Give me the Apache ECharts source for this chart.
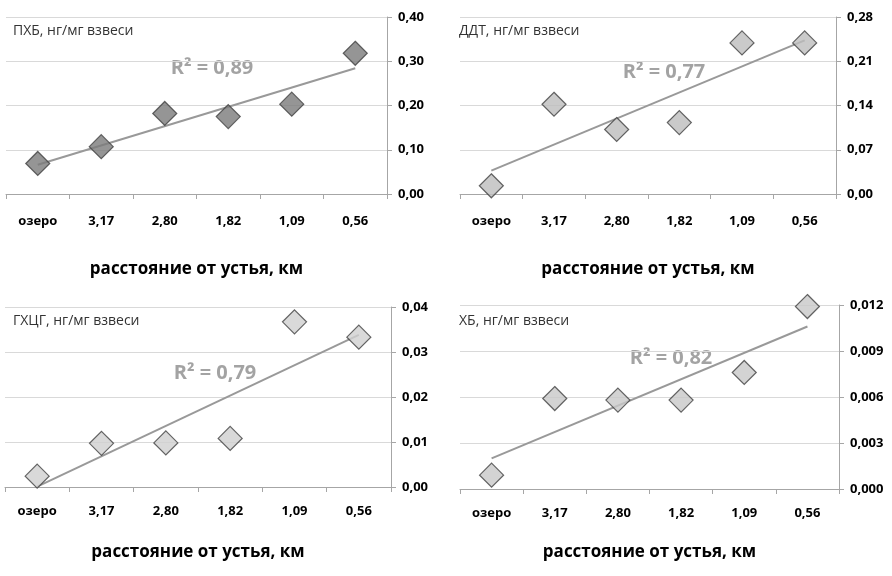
<!DOCTYPE html>
<html>
<head>
<meta charset="utf-8">
<script src="https://cdn.jsdelivr.net/npm/echarts@6/dist/echarts.min.js"></script>
<style>
  html, body { margin: 0; padding: 0; background: #fff; }
  #chart { width: 892px; height: 576px; }
</style>
</head>
<body>
<div id="chart"></div>
<script>
// категории: расстояние от устья, км
const categories = ["озеро", "3,17", "2,80", "1,82", "1,09", "0,56"];

// значения, нг/мг взвеси
const pcb = [0.069, 0.107, 0.182, 0.175, 0.203, 0.318];
const ddt = [0.013, 0.142, 0.102, 0.113, 0.239, 0.239];
const hch = [0.0024, 0.0097, 0.0098, 0.0108, 0.0367, 0.0333];
const hb = [0.0009, 0.0059, 0.0058, 0.0058, 0.0076, 0.0119];

// линии тренда: значения на первой и последней категории
const pcbTrend = [0.066, 0.284];
const ddtTrend = [0.037, 0.243];
const hchTrend = [0.0001, 0.0338];
const hbTrend = [0.0020, 0.0106];

const titles = ["ПХБ, нг/мг взвеси", "ДДТ, нг/мг взвеси", "ГХЦГ, нг/мг взвеси", "ХБ, нг/мг взвеси"];
const r2 = ["R² = 0,89", "R² = 0,77", "R² = 0,79", "R² = 0,82"];
const axisMax = [0.40, 0.28, 0.04, 0.012];
const axisStep = [0.1, 0.07, 0.01, 0.003];
const axisDigits = [2, 2, 2, 3];

const FONT = "'Open Sans', 'Noto Sans', sans-serif";

const panels = [
  { data: pcb, trend: pcbTrend, fill: "#7a7a7a" },
  { data: ddt, trend: ddtTrend, fill: "#bdbdbd" },
  { data: hch, trend: hchTrend, fill: "#d0d0d0" },
  { data: hb, trend: hbTrend, fill: "#c8c8c8" },
];

const grids = [
  { left: 6, right: 505, top: 17, height: 177, outerBoundsMode: "none" },
  { left: 460, right: 56, top: 17, height: 177, outerBoundsMode: "none" },
  { left: 5, right: 501, top: 307, height: 180, outerBoundsMode: "none" },
  { left: 460, right: 53, top: 305, height: 184, outerBoundsMode: "none" },
];
const nameGaps = [67, 67, 57, 55];
const labelMargins = [21, 21, 18, 18];

// подписи на рисунке
const titlePos = [[8, 19], [454, 19], [8, 309], [454, 309]];
const r2Pos = [[212, 68], [664, 72], [215, 373], [671, 358]];

const option = {
  backgroundColor: "#fff",
  animation: false,
  grid: grids,
  title: titles.map((t, i) => ({
    text: t,
    left: titlePos[i][0],
    top: titlePos[i][1],
    textStyle: { fontFamily: FONT, fontSize: 14, fontWeight: "normal", color: "#333" },
  })),
  graphic: r2.map((t, i) => ({
    type: "text",
    x: r2Pos[i][0],
    y: r2Pos[i][1],
    style: {
      text: t,
      fill: "#a3a3a3",
      font: "bold 20px " + FONT,
      align: "center",
      verticalAlign: "middle",
    },
  })),
  xAxis: grids.map((g, i) => ({
    type: "category",
    gridIndex: i,
    data: categories,
    boundaryGap: true,
    name: "расстояние от устья, км",
    nameLocation: "middle",
    nameGap: nameGaps[i],
    nameTextStyle: { fontFamily: FONT, fontSize: 17, fontWeight: "bold", color: "#000" },
    axisLine: { lineStyle: { color: "#a6a6a6", width: 1 } },
    axisTick: { show: true, interval: 0, length: 5, lineStyle: { color: "#a6a6a6" } },
    axisLabel: {
      interval: 0,
      margin: labelMargins[i],
      fontFamily: FONT,
      fontSize: 13,
      fontWeight: "bold",
      color: "#000",
    },
    splitLine: { show: false },
  })),
  yAxis: grids.map((g, i) => ({
    type: "value",
    gridIndex: i,
    position: "right",
    min: 0,
    max: axisMax[i],
    interval: axisStep[i],
    axisLine: { show: true, lineStyle: { color: "#a6a6a6", width: 1 } },
    axisTick: { show: true, length: 5, lineStyle: { color: "#a6a6a6" } },
    axisLabel: {
      margin: 11,
      fontFamily: FONT,
      fontSize: 13,
      fontWeight: "bold",
      color: "#000",
      formatter: (v) => v.toFixed(axisDigits[i]).replace(".", ","),
    },
    splitLine: { show: true, lineStyle: { color: "#d9d9d9", width: 1 } },
  })),
  series: [],
};

panels.forEach((p, i) => {
  option.series.push({
    type: "line",
    xAxisIndex: i,
    yAxisIndex: i,
    data: [
      [categories[0], p.trend[0]],
      [categories[categories.length - 1], p.trend[1]],
    ],
    symbol: "none",
    lineStyle: { color: "#999999", width: 2 },
    z: 2,
  });
  option.series.push({
    type: "scatter",
    xAxisIndex: i,
    yAxisIndex: i,
    data: p.data,
    symbol: "diamond",
    symbolSize: [24, 24],
    itemStyle: { color: p.fill, borderColor: "#404040", borderWidth: 1.2 },
    z: 3,
  });
});

const myChart = echarts.init(document.getElementById("chart"));
myChart.setOption(option);
</script>
</body>
</html>
